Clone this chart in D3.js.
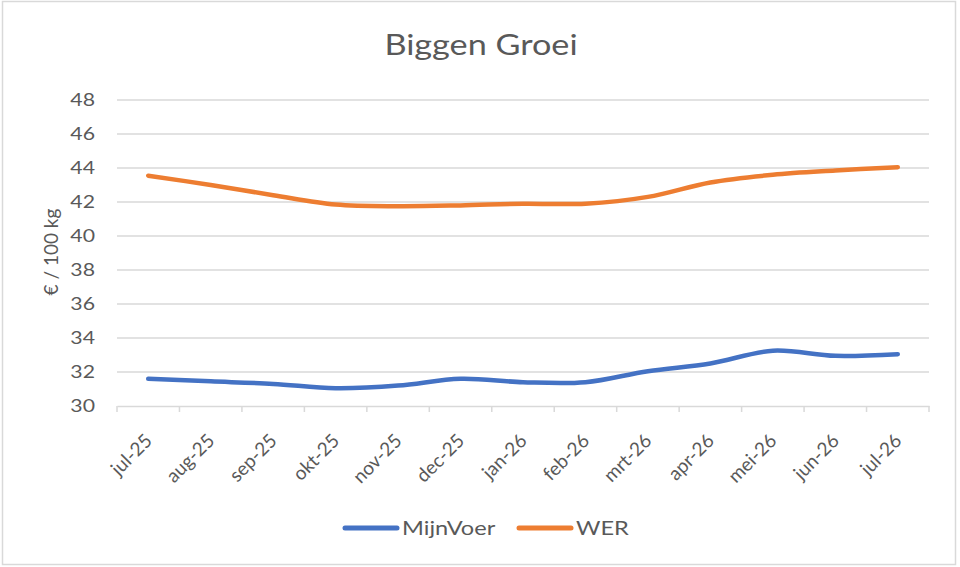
<!DOCTYPE html>
<html>
<head>
<meta charset="utf-8">
<script src="https://cdn.jsdelivr.net/npm/d3@7"></script>
<style>
  body { margin: 0; background: #fff; }
  text { font-family: Lato, "Open Sans", sans-serif; fill: #595959; }
</style>
</head>
<body>
<div id="chart"></div>
<script>
var months = ["jul-25", "aug-25", "sep-25", "okt-25", "nov-25", "dec-25", "jan-26",
              "feb-26", "mrt-26", "apr-26", "mei-26", "jun-26", "jul-26"];
var mijnVoer = [31.6, 31.45, 31.3, 31.05, 31.2, 31.6, 31.4, 31.4, 32.05, 32.5, 33.25, 32.95, 33.05];
var wer = [43.55, 43.0, 42.4, 41.85, 41.75, 41.8, 41.9, 41.9, 42.3, 43.15, 43.6, 43.85, 44.05];
var yTicks = [30, 32, 34, 36, 38, 40, 42, 44, 46, 48];

var W = 960, H = 567;
var plot = {left: 117, right: 929, top: 100, bottom: 406};
var sx = 1.18;   // the reference text is a bit wider than Lato

var svg = d3.select("#chart").append("svg")
    .attr("width", W)
    .attr("height", H);

//chart frame
svg.append("rect")
    .attr("x", 2.5).attr("y", 1.5)
    .attr("width", 953).attr("height", 563)
    .attr("fill", "#fff")
    .attr("stroke", "#d9d9d9")
    .attr("stroke-width", 1.5);

var x = d3.scaleBand().domain(months).range([plot.left, plot.right]);
var y = d3.scaleLinear().domain([30, 48]).range([plot.bottom, plot.top]);

//gridlines
svg.append("g").selectAll("line")
    .data(yTicks.slice(1))
    .enter().append("line")
    .attr("x1", plot.left).attr("x2", plot.right)
    .attr("y1", function(d){ return y(d); })
    .attr("y2", function(d){ return y(d); })
    .attr("stroke", "#d9d9d9")
    .attr("stroke-width", 1.5);

//y axis labels
var yAxis = svg.append("g")
    .attr("transform", "translate(" + (plot.left - 22) + ",0)")
    .call(d3.axisLeft(y).tickValues(yTicks).tickSize(0).tickPadding(0));
yAxis.select(".domain").remove();
yAxis.selectAll("text")
    .style("font-size", "18px")
    .attr("fill", "#595959")
    .attr("transform", "scale(" + sx + ",1)");

//x axis
var xAxis = svg.append("g")
    .attr("transform", "translate(0," + plot.bottom + ")")
    .call(d3.axisBottom(x).tickSize(0));
xAxis.select(".domain")
    .attr("stroke", "#d9d9d9")
    .attr("stroke-width", 1.5);
xAxis.selectAll("text")
    .style("font-size", "19px")
    .attr("fill", "#595959")
    .attr("text-anchor", "end")
    .attr("dy", null)
    .attr("y", 0)
    .attr("transform", "translate(5,36) rotate(-45)");

//tick marks at category boundaries
var bounds = months.map(function(m){ return x(m); }).concat([plot.right]);
svg.append("g").selectAll("line")
    .data(bounds)
    .enter().append("line")
    .attr("x1", function(d){ return d; })
    .attr("x2", function(d){ return d; })
    .attr("y1", plot.bottom)
    .attr("y2", plot.bottom + 6)
    .attr("stroke", "#d9d9d9")
    .attr("stroke-width", 1.5);

var cx = function(d, i){ return x(months[i]) + x.bandwidth() / 2; };

var series = [
    {name: "MijnVoer", values: mijnVoer, color: "#4472c4"},
    {name: "WER", values: wer, color: "#ed7d31"}
];

var line = d3.line()
    .x(cx)
    .y(function(d){ return y(d); })
    .curve(d3.curveCatmullRom.alpha(0.5));

svg.append("g").selectAll("path")
    .data(series)
    .enter().append("path")
    .attr("d", function(s){ return line(s.values); })
    .attr("fill", "none")
    .attr("stroke", function(s){ return s.color; })
    .attr("stroke-width", 4.5)
    .attr("stroke-linecap", "round")
    .attr("stroke-linejoin", "round");

//title
svg.append("text")
    .attr("transform", "translate(481,55) scale(" + sx + ",1)")
    .attr("text-anchor", "middle")
    .style("font-size", "29px")
    .text("Biggen Groei");

//y axis title
svg.append("text")
    .attr("transform", "translate(51,252) rotate(-90)")
    .attr("text-anchor", "middle")
    .attr("dy", "0.35em")
    .style("font-size", "19px")
    .text("€ / 100 kg");

//legend
var legendX = [343, 517];
var legend = svg.append("g").selectAll("g")
    .data(series)
    .enter().append("g")
    .attr("transform", function(s, i){ return "translate(" + legendX[i] + ",528)"; });
legend.append("line")
    .attr("x1", 2).attr("x2", 54)
    .attr("stroke", function(s){ return s.color; })
    .attr("stroke-width", 5)
    .attr("stroke-linecap", "round");
legend.append("text")
    .attr("transform", "translate(59,0) scale(" + sx + ",1)")
    .attr("dy", "0.35em")
    .style("font-size", "20px")
    .text(function(s){ return s.name; });
</script>
</body>
</html>
